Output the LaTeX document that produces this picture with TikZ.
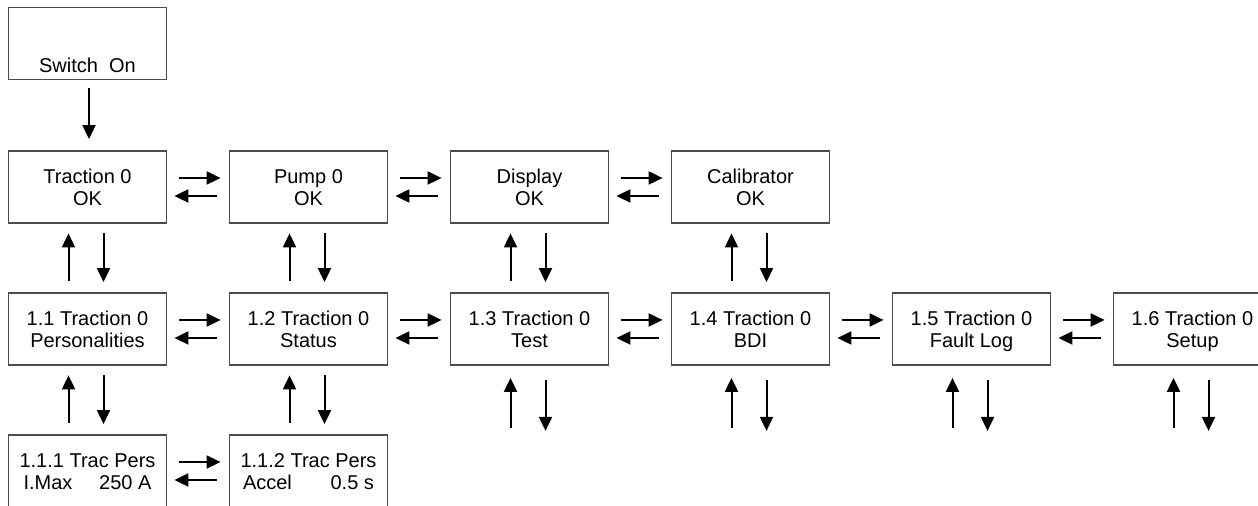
\documentclass[tikz,border=0pt]{standalone}
\usepackage{fontspec}
\setmainfont{Liberation Sans}
\usetikzlibrary{calc,
arrows.meta,
positioning}

\begin{document}
\begin{tikzpicture} [x=0.5pt, y=0.5pt,
    -{Triangle[length=7pt, width=6.5pt]},
    line width=1pt,
    every node/.style={font={\fontsize{10}{11}\selectfont}},
    menu node/.style={rectangle, draw=black!70, line width=0.9pt,
        minimum width=79pt, minimum height=36pt, inner sep=1pt,
        text height=18.3pt, text depth=0pt,
        align=center}
  ]
  \useasboundingbox (0,0) rectangle (1258,506);

  \node [menu node,
    inner ysep = 1pt,
    text height = 31.4pt,
    text depth = 2.6pt
  ] (on) at (87.5, 462.5) {Switch\ \ On};

  % top level
  \node [menu node] (trac) at (87.5, 319) {Traction 0\\OK};
  \node [menu node] (pump) at ($(trac) + (221, 0)$) {Pump 0\\OK};
  \node [menu node] (disp) at ($(pump) + (221, 0)$) {Display\\OK};
  \node [menu node] (cal)  at ($(disp) + (221, 0)$) {Calibrator\\OK};

  % traction menu
  \node [menu node] (trac1) at ($(trac)  + (0, -142)$) {1.1 Traction 0\\Personalities};
  \node [menu node] (trac2) at ($(trac1) + (221, 0)$) {1.2 Traction 0\\Status};
  \node [menu node] (trac3) at ($(trac2) + (221, 0)$) {1.3 Traction 0\\Test};
  \node [menu node] (trac4) at ($(trac3) + (221, 0)$) {1.4 Traction 0\\BDI};
  \node [menu node] (trac5) at ($(trac4) + (221, 0)$) {1.5 Traction 0\\Fault Log};
  \node [menu node] (trac6) at ($(trac5) + (221, 0)$) {1.6 Traction 0\\Setup};

  % personalities
  \node [menu node] (pers1) at ($(trac1) + (0, -142)$)
    {1.1.1 Trac Pers\\\makebox[64pt]{I.Max\hfill 250 A}};
  \node [menu node] (pers2) at ($(pers1) + (221, 0)$)
    {1.1.2 Trac Pers\\\makebox[65.5pt]{Accel\hfill 0.5 s}};

  \draw ($(on.south) + (1.5, -8)$) -- ($(trac.north) + (1.5, 11)$);

  \foreach \a/\b in {trac/pump, pump/disp, disp/cal,
      trac1/trac2, trac2/trac3, trac3/trac4, trac4/trac5, trac5/trac6,
      pers1/pers2} {
    \draw ($(\a.east) + (11.5, 9)$) -- ($(\b.west) + (-8, 9)$);
    \draw ($(\b.west) + (-12, -9)$) -- ($(\a.east) + (7, -9)$);
  }

  \foreach \u/\l in {trac/trac1, pump/trac2, disp/trac3, cal/trac4,
      trac1/pers1, trac2/pers2} {
    \draw ($(\l.north) + (-19, 11)$) -- ($(\u.south) + (-19, -9.5)$);
    \draw ($(\u.south) + (16, -9.5)$) -- ($(\l.north) + (16, 10)$);
  }

  \foreach \m in {trac3, trac4, trac5, trac6} {
    \coordinate (\m-in)  at ($(\m.south) + (-19, -62)$);
    \coordinate (\m-out) at ($(\m.south) + (16, -65)$);
    \draw (\m-in) -- ($(\m.south) + (-19, -12)$);
    \draw ($(\m.south) + (16, -14)$) -- (\m-out);
  }

\end{tikzpicture}
\end{document}
